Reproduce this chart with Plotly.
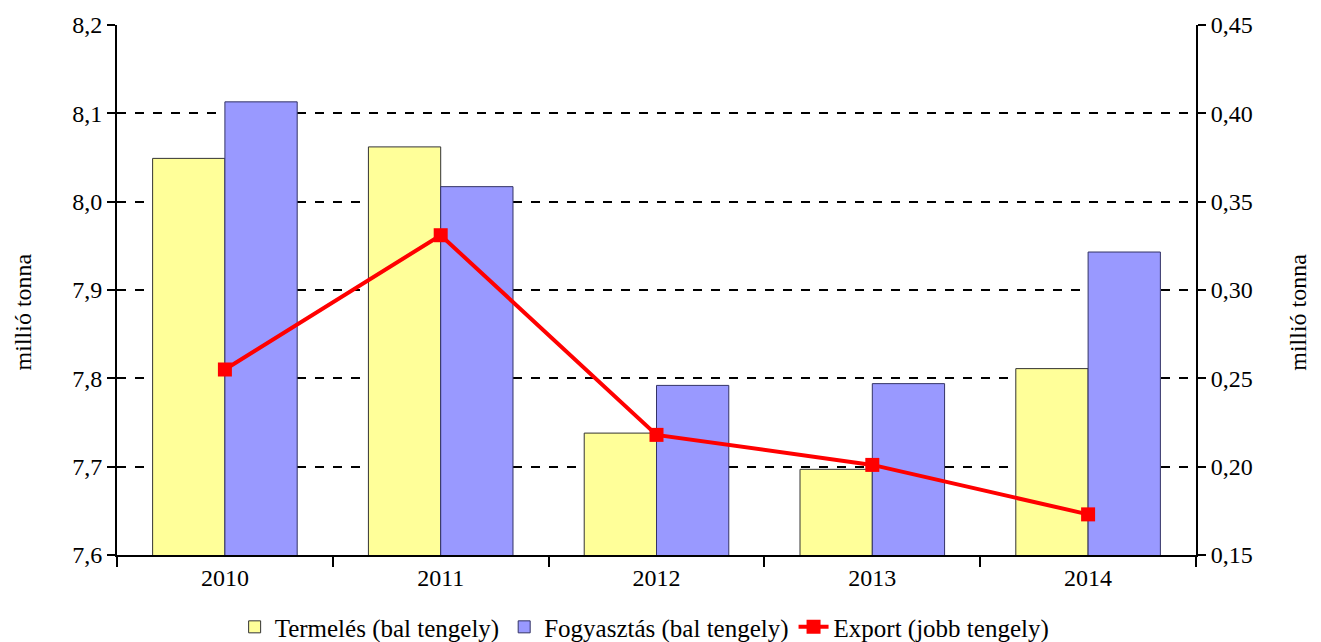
import plotly.graph_objects as go

# data
years = ["2010", "2011", "2012", "2013", "2014"]
termeles = [8.049, 8.062, 7.738, 7.697, 7.811]
fogyasztas = [8.113, 8.017, 7.792, 7.794, 7.943]
export = [0.255, 0.331, 0.218, 0.201, 0.173]

left_ticks = [7.6, 7.7, 7.8, 7.9, 8.0, 8.1, 8.2]
left_labels = ["7,6", "7,7", "7,8", "7,9", "8,0", "8,1", "8,2"]
right_ticks = [0.15, 0.20, 0.25, 0.30, 0.35, 0.40, 0.45]
right_labels = ["0,15", "0,20", "0,25", "0,30", "0,35", "0,40", "0,45"]

font = dict(family="Liberation Serif, Times New Roman, serif", size=24, color="black")

fig = go.Figure()
fig.add_trace(go.Bar(
    x=years, y=termeles, name="Termelés (bal tengely)",
    marker=dict(color="#FFFF99", line=dict(color="#333333", width=1)),
))
fig.add_trace(go.Bar(
    x=years, y=fogyasztas, name="Fogyasztás (bal tengely)",
    marker=dict(color="#9999FF", line=dict(color="#333366", width=1)),
))
fig.add_trace(go.Scatter(
    x=years, y=export, name="Export (jobb tengely)", yaxis="y2",
    mode="lines+markers",
    line=dict(color="#FF0000", width=4),
    marker=dict(symbol="square", size=14, color="#FF0000"),
))

# page body has an 8px margin, so the margins are shifted by that
fig.update_layout(
    width=1321, height=642,
    margin=dict(l=109, r=133, t=17, b=95, autoexpand=False),
    paper_bgcolor="white", plot_bgcolor="white",
    font=font,
    barmode="group", bargap=0.33, bargroupgap=0,
    showlegend=True,
    legend=dict(orientation="h", x=0.489, xanchor="center", y=-0.136, yanchor="middle",
                font=dict(size=25), itemwidth=30, traceorder="normal"),
    xaxis=dict(
        type="category", showline=True, linecolor="black", linewidth=2,
        ticks="outside", tickson="boundaries", ticklen=10, tickwidth=2, tickcolor="black",
        showgrid=False, tickfont=font, automargin=False,
    ),
    yaxis=dict(
        range=[7.6, 8.2], tickvals=left_ticks, ticktext=left_labels,
        showline=True, linecolor="black", linewidth=2,
        ticks="outside", ticklen=8, tickwidth=2, tickcolor="black",
        showgrid=True, gridcolor="black", gridwidth=2, griddash="dash",
        zeroline=False, tickfont=font, automargin=False,
    ),
    yaxis2=dict(
        range=[0.15, 0.45], tickvals=right_ticks, ticktext=right_labels,
        overlaying="y", side="right",
        showline=True, linecolor="black", linewidth=2,
        ticks="outside", ticklen=8, tickwidth=2, tickcolor="black",
        showgrid=False, zeroline=False, tickfont=font, automargin=False,
    ),
)

# axis titles sit a bit below the middle in the original
fig.add_annotation(text="millió tonna", xref="paper", yref="paper", x=-0.087, y=0.458,
                   textangle=-90, showarrow=False, font=font, xanchor="center", yanchor="middle")
fig.add_annotation(text="millió tonna", xref="paper", yref="paper", x=1.095, y=0.458,
                   textangle=-90, showarrow=False, font=font, xanchor="center", yanchor="middle")

fig.write_html("out.html")
